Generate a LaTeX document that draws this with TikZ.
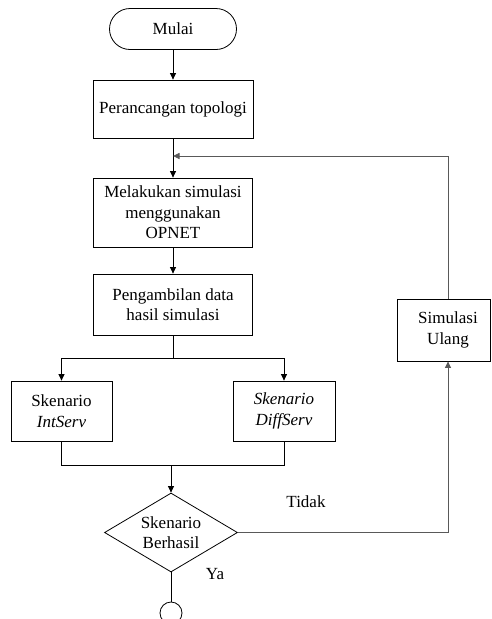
\documentclass[tikz,border=0pt]{standalone}
\usepackage{fontspec}
\setmainfont{Liberation Serif}[Ligatures=TeX]
\newfontfamily\timesfont{Liberation Serif}
\usetikzlibrary{shapes.geometric,arrows.meta,calc}
\begin{document}
\begin{tikzpicture}[x=1pt,y=-1pt,
  every node/.style={font=\timesfont\fontsize{17}{20.5}\selectfont, align=center, inner sep=0pt},
  box/.style={draw, line width=0.8pt, rectangle},
  line/.style={line width=0.8pt, draw=black},
  gline/.style={line width=0.9pt, draw=black!65},
  arr/.style={-{Triangle[length=6.5pt,width=6pt]}}
]
\useasboundingbox (0,0) rectangle (491,619);
\clip (0,0) rectangle (491,619);

\node[box, rounded corners=20.5pt, minimum width=127pt, minimum height=41pt] (mulai) at (173,29) {Mulai};
\node[box, minimum width=160pt, minimum height=58pt] (pt) at (173,109) {Perancangan topologi};
\node[box, minimum width=159pt, minimum height=69pt] (ms) at (173,212.5) {Melakukan simulasi\\menggunakan\\OPNET};
\node[box, minimum width=159pt, minimum height=61pt] (pd) at (173,304.5) {Pengambilan data\\hasil simulasi};
\node[box, minimum width=101pt, minimum height=60pt] (si) at (61.5,411) {Skenario\\\textit{IntServ}};
\node[box, minimum width=102pt, minimum height=60pt] (sd) at (284,411) {\textit{Skenario}\\\textit{DiffServ}};
\node[draw, line width=0.8pt, diamond, shape aspect=1.68, minimum width=133pt, minimum height=79pt] (dm) at (171,532.5) {Skenario\\Berhasil};
\node[draw, line width=0.8pt, circle, minimum size=22pt] (end) at (171,613) {};
\node[box, minimum width=93pt, minimum height=62pt] (su) at (443.5,330) {};
\node (sutext) at (448,330) {Simulasi\\Ulang};

\node (tidak) at (306,502) {Tidak};
\node (ya) at (215,574) {Ya};

\coordinate (split) at (173,358);
\coordinate (join) at (171,465);
\coordinate (back) at (173,156);

\draw[line, arr] (mulai) -- (pt);
\draw[line, arr] (pt) -- (ms);
\draw[line, arr] (ms) -- (pd);
\draw[line] (pd.south) -- (split);
\draw[line, arr] (split) -| (si.north);
\draw[line, arr] (split) -| (sd.north);
\draw[line] (si.south) |- (join);
\draw[line] (sd.south) |- (join);
\draw[line, arr] (join) -- (dm.north);
\draw[line] (dm.south) -- (end.north);
\draw[gline, arr] (dm.east) -| ([xshift=4.5pt]su.south);
\draw[gline, arr] ([xshift=4.5pt]su.north) |- (back);
\end{tikzpicture}
\end{document}
